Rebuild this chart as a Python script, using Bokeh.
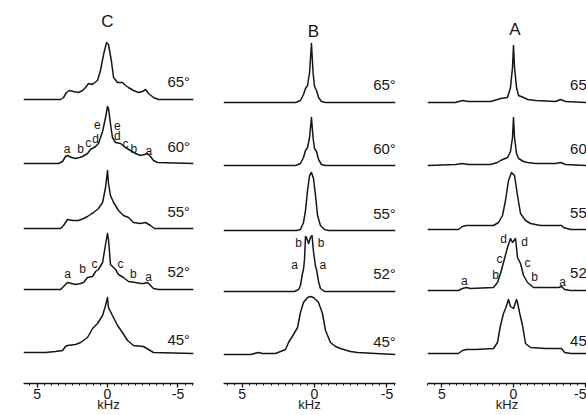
from bokeh.plotting import figure
from bokeh.layouts import row
from bokeh.models import Range1d, FixedTicker
from bokeh.embed import file_html
from bokeh.resources import INLINE
from bokeh.core.properties import value

FONT = "Liberation Sans"
INK = "#161616"

# ---------------- data (kHz, relative intensity) ----------------
angles = ["65°", "60°", "55°", "52°", "45°"]
tick_values = [5, 0, -5]
tick_labels = ["5", "0", "-5"]
x_title = "kHz"

# Panel C
C65_khz = [5.96, 3.33, 3.12, 2.91, 2.70, 2.41, 2.06, 1.77, 1.56, 1.35, 1.13, 0.99, 0.71, 0.50, 0.28, 0.07, -0.07, -0.28, -0.43, -0.71, -1.06, -1.28, -1.49, -1.84, -2.20, -2.48, -2.70, -2.91, -3.26, -3.62, -6.10]
C65_int = [0, 0, 2, 7, 9, 8, 7, 9, 12, 16, 15, 16, 19, 29, 45, 57, 55, 38, 22, 17, 17, 14, 12, 9, 7, 8, 10, 6, 2, 0, 0]
C60_khz = [5.96, 3.48, 3.19, 2.98, 2.84, 2.55, 2.27, 1.99, 1.77, 1.42, 1.21, 0.85, 0.64, 0.35, 0.14, 0.0, -0.07, -0.21, -0.35, -0.57, -0.92, -1.28, -1.63, -1.99, -2.34, -2.62, -2.84, -3.05, -3.26, -3.55, -6.10]
C60_int = [0, 0, 2, 7, 8, 6, 5, 6, 7, 10, 14, 17, 20, 32, 46, 57, 55, 40, 26, 21, 20, 16, 13, 10, 8, 9, 10, 7, 3, 1, 0]
C55_khz = [5.96, 3.33, 3.12, 2.84, 2.48, 2.06, 1.70, 1.42, 1.21, 0.99, 0.64, 0.35, 0.14, 0.0, -0.07, -0.21, -0.43, -0.78, -1.13, -1.49, -1.84, -2.34, -2.70, -3.05, -3.33, -6.10]
C55_int = [0, 0, 3, 9, 8, 8, 10, 12, 14, 16, 20, 26, 41, 58, 45, 33, 26, 18, 13, 11, 6, 5, 6, 3, 0, 0]
C52_khz = [5.96, 3.33, 3.12, 2.84, 2.55, 2.27, 1.91, 1.70, 1.42, 1.06, 0.85, 0.64, 0.35, 0.14, 0.0, -0.07, -0.21, -0.57, -0.78, -1.13, -1.49, -1.99, -2.34, -2.55, -2.84, -3.05, -3.26, -3.62, -6.10]
C52_int = [0, 0, 3, 7, 6, 5, 6, 7, 12, 13, 18, 20, 27, 45, 56, 50, 25, 20, 15, 12, 8, 7, 6, 6, 7, 4, 1, 0, 0]
C45_khz = [5.96, 4.40, 3.69, 3.19, 2.98, 2.84, 2.27, 1.91, 1.42, 1.06, 0.71, 0.35, 0.14, 0.0, -0.07, -0.35, -0.71, -1.06, -1.42, -1.84, -2.55, -2.91, -3.26, -6.10]
C45_int = [0, 0, 1, 2, 6, 7, 8, 10, 15, 24, 29, 37, 47, 55, 45, 37, 27, 20, 12, 7, 6, 3, 0, -1]

# Panel B
B65_khz = [6.28, 1.31, 0.97, 0.76, 0.62, 0.48, 0.34, 0.21, 0.10, 0.0, -0.14, -0.28, -0.48, -0.76, -5.59]
B65_int = [0, 0, 2, 8, 14, 17, 30, 59, 30, 16, 12, 5, 1, 0, 0]
B60_khz = [6.28, 1.31, 0.97, 0.76, 0.62, 0.48, 0.34, 0.21, 0.10, 0.0, -0.14, -0.28, -0.48, -0.76, -5.59]
B60_int = [0, 0, 2, 8, 15, 18, 28, 48, 28, 17, 14, 6, 1, 0, 0]
B55_khz = [6.28, 1.24, 0.97, 0.76, 0.62, 0.48, 0.34, 0.21, 0.07, -0.07, -0.21, -0.41, -0.69, -0.97, -5.59]
B55_int = [0, 0, 1, 8, 20, 40, 55, 58, 52, 35, 15, 5, 1, 0, 0]
B52_khz = [6.28, 1.38, 1.10, 0.97, 0.83, 0.76, 0.69, 0.62, 0.55, 0.41, 0.28, 0.17, 0.07, -0.07, -0.14, -0.28, -0.41, -0.69, -5.59]
B52_int = [0, 0, 2, 6, 18, 22, 32, 55, 54, 48, 54, 56, 40, 25, 22, 10, 3, 0, 0]
B45_khz = [6.28, 4.41, 3.86, 3.59, 2.69, 2.00, 1.79, 1.45, 1.17, 0.97, 0.76, 0.48, 0.28, 0.07, -0.28, -0.55, -0.76, -1.10, -1.45, -1.79, -2.48, -2.97, -4.21, -5.59]
B45_int = [0, 0, 2, 1, 1, 5, 12, 20, 27, 42, 52, 57, 58, 57, 52, 41, 24, 12, 8, 6, 3, 2, 1, 0]

# Panel A
A65_khz = [6.01, 4.06, 3.57, 3.15, 1.61, 1.12, 0.91, 0.42, 0.21, 0.07, 0.0, -0.07, -0.21, -0.35, -0.70, -0.98, -1.54, -2.94, -3.29, -3.64, -5.10]
A65_int = [0, 0, 2, 1, 1, 3, 4, 5, 15, 35, 57, 35, 15, 7, 5, 3, 2, 1, 3, 1, 0]
A60_khz = [6.01, 4.06, 3.57, 3.15, 1.61, 1.12, 0.91, 0.42, 0.21, 0.07, 0.0, -0.07, -0.21, -0.35, -0.70, -0.98, -1.54, -2.94, -3.29, -3.64, -5.10]
A60_int = [0, 1, 2, 1, 1, 3, 5, 8, 14, 28, 48, 28, 12, 7, 4, 3, 2, 2, 3, 1, 0]
A55_khz = [6.01, 3.85, 3.57, 3.29, 1.40, 1.05, 0.77, 0.56, 0.35, 0.14, -0.07, -0.28, -0.49, -0.84, -1.19, -1.89, -3.15, -3.36, -3.50, -3.99, -5.10]
A55_int = [0, 0, 3, 4, 4, 7, 14, 29, 49, 57, 54, 34, 16, 9, 6, 4, 4, 4, 2, 0, 0]
A52_khz = [6.01, 3.85, 3.57, 3.29, 3.01, 1.40, 1.12, 0.91, 0.70, 0.42, 0.21, 0.07, -0.14, -0.28, -0.49, -0.70, -0.98, -1.40, -3.15, -3.36, -3.57, -3.99, -5.10]
A52_int = [0, 0, 2, 3, 2, 3, 8, 17, 28, 43, 52, 48, 52, 33, 27, 15, 8, 3, 3, 4, 1, 0, 0]
A45_khz = [6.01, 3.85, 3.57, 3.29, 2.66, 1.40, 1.12, 0.91, 0.70, 0.56, 0.35, 0.21, 0.0, -0.21, -0.28, -0.42, -0.63, -0.84, -1.19, -2.24, -3.15, -3.36, -3.57, -3.99, -5.10]
A45_int = [0, 0, 3, 4, 4, 5, 11, 28, 40, 45, 54, 47, 45, 54, 51, 41, 28, 10, 6, 5, 5, 5, 1, 0, 0]

# peak letter annotations (kHz, height above the trace baseline)
C60_letters = ["a", "b", "c", "d", "e", "e", "d", "c", "b", "a"]
C60_letter_khz = [2.86, 1.91, 1.37, 0.85, 0.73, -0.69, -0.69, -1.28, -1.87, -2.93]
C60_letter_int = [15, 15, 21, 25, 39, 38, 28, 20, 15, 13]
C52_letters = ["a", "b", "c", "c", "b", "a"]
C52_letter_khz = [2.84, 1.77, 0.92, -0.92, -1.84, -2.91]
C52_letter_int = [16, 21, 26, 26, 16, 13]
B52_letters = ["b", "a", "b", "a"]
B52_letter_khz = [1.10, 1.38, -0.46, -0.57]
B52_letter_int = [49, 27, 49, 27]
A52_letters = ["d", "c", "b", "a", "d", "c", "b", "a"]
A52_letter_khz = [0.70, 0.98, 1.26, 3.43, -0.77, -0.98, -1.47, -3.43]
A52_letter_int = [52, 32, 16, 10, 49, 28, 14, 9]

# ---------------- layout constants ----------------
FIG_H = 415
FRAME_H = 383
label_rise = [18, 17, 17, 18, 13]
minor = [6.0, 5.5, 4.5, 4.0, 3.5, 3.0, 2.5, 2.0, 1.5, 1.0, 0.5,
         -0.5, -1.0, -1.5, -2.0, -2.5, -3.0, -3.5, -4.0, -4.5, -5.5, -6.0]


def panel(name, xr, width, bl, br, traces, offsets, title_xy, label_x, letters):
    p = figure(width=width, height=FIG_H, x_range=Range1d(*xr),
               y_range=Range1d(0, FRAME_H), y_axis_location=None,
               output_backend="svg", toolbar_location=None,
               min_border_left=bl, min_border_right=br,
               min_border_top=0, min_border_bottom=FIG_H - FRAME_H)
    p.grid.visible = False
    p.outline_line_color = None
    p.background_fill_color = "white"
    p.border_fill_color = "white"
    ax = p.xaxis[0]
    ax.ticker = FixedTicker(ticks=tick_values, minor_ticks=minor)
    ax.major_label_overrides = dict(zip(tick_values, tick_labels))
    ax.axis_line_width = 1.5
    ax.axis_line_color = INK
    ax.major_tick_in = 0
    ax.major_tick_out = 4
    ax.major_tick_line_width = 1.3
    ax.major_tick_line_color = INK
    ax.minor_tick_in = 0
    ax.minor_tick_out = 2
    ax.minor_tick_line_color = INK
    ax.major_label_standoff = 1
    ax.major_label_text_font = FONT
    ax.major_label_text_font_size = "14px"
    ax.major_label_text_color = INK
    ax.axis_label = x_title
    ax.axis_label_standoff = -5
    ax.axis_label_text_font = FONT
    ax.axis_label_text_font_size = "13px"
    ax.axis_label_text_font_style = "normal"
    ax.axis_label_text_color = INK

    for (kx, ki), off in zip(traces, offsets):
        p.line(kx, [v + off for v in ki], line_color=INK, line_width=1.5,
               line_join="round")

    # angle labels
    p.text(x=[label_x] * len(angles), y=[o + r for o, r in zip(offsets, label_rise)],
           text=angles, text_font=value(FONT), text_font_size="15px",
           text_color=INK, text_align="left", text_baseline="middle")

    # panel letter
    p.text(x=[title_xy[0]], y=[title_xy[1]], text=[name], text_font=value(FONT),
           text_font_size="17px", text_color=INK, text_align="center",
           text_baseline="middle")

    # peak letters
    for lab, lk, li, off in letters:
        p.text(x=lk, y=[v + off for v in li], text=lab, text_font=value(FONT),
               text_font_size="12px", text_color=INK, text_align="center",
               text_baseline="middle")
    return p


offC = [284, 220, 155, 94, 31]
offB = [281, 218, 153, 92, 29]
offA = [281, 218, 154, 93, 30]

pC = panel("C", (5.96, -6.10), 209, 23, 16,
           [(C65_khz, C65_int), (C60_khz, C60_int), (C55_khz, C55_int),
            (C52_khz, C52_int), (C45_khz, C45_int)], offC, (0.0, 362), -4.25,
           [(C60_letters, C60_letter_khz, C60_letter_int, offC[1]),
            (C52_letters, C52_letter_khz, C52_letter_int, offC[3])])
pB = panel("B", (6.28, -5.59), 202, 14, 16,
           [(B65_khz, B65_int), (B60_khz, B60_int), (B55_khz, B55_int),
            (B52_khz, B52_int), (B45_khz, B45_int)], offB, (0.07, 352), -4.05,
           [(B52_letters, B52_letter_khz, B52_letter_int, offB[3])])
pA = panel("A", (6.01, -5.10), 175, 16, 0,
           [(A65_khz, A65_int), (A60_khz, A60_int), (A55_khz, A55_int),
            (A52_khz, A52_int), (A45_khz, A45_int)], offA, (-0.1, 354), -3.95,
           [(A52_letters, A52_letter_khz, A52_letter_int, offA[3])])

layout = row(pC, pB, pA, spacing=0)
open("out.html", "w").write(file_html(layout, INLINE))
